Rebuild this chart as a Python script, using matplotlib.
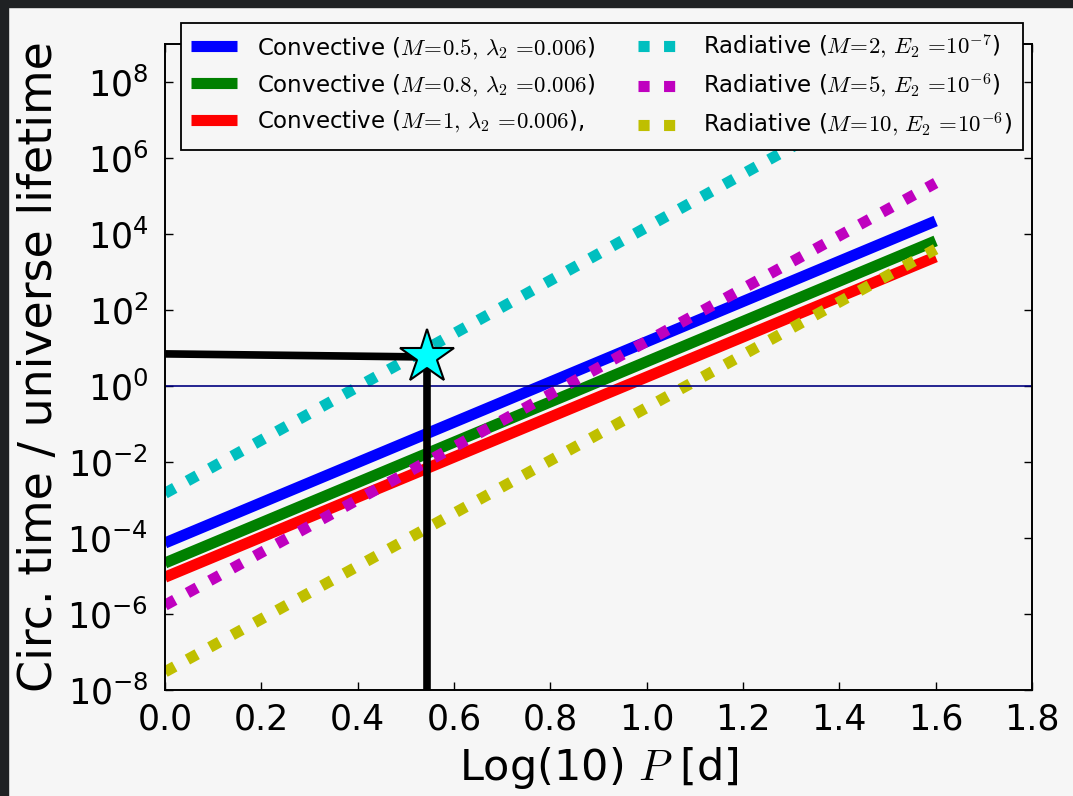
import numpy as np
import matplotlib
matplotlib.use('Agg')
import matplotlib.pyplot as plt
from matplotlib.patches import Rectangle
from matplotlib.ticker import FixedLocator, FuncFormatter

plt.rcParams['mathtext.fontset'] = 'cm'
plt.rcParams['font.family'] = 'DejaVu Sans'

# log10 of the period, end points of each track
logP = [0.0, 1.6]

conv_05 = [7.4e-5, 2.2e4]
conv_08 = [2.2e-5, 6.6e3]
conv_10 = [9.3e-6, 2.5e3]
rad_2 = [1.5e-3, 2.4e8]
rad_5 = [1.7e-6, 2.2e5]
rad_10 = [3.0e-8, 4.0e3]

# the marked system
star_x = 0.544
star_y = 5.8
guide_h_x = [0.0, star_x]
guide_h_y = [7.0, star_y]
guide_v_x = [star_x, star_x]
guide_v_y = [star_y, 1e-8]

labels = [r'Convective ($M\!=\!0.5,\,\lambda_2\,=\!0.006$)',
          r'Convective ($M\!=\!0.8,\,\lambda_2\,=\!0.006$)',
          r'Convective ($M\!=\!1,\,\lambda_2\,=\!0.006$),',
          r'Radiative ($M\!=\!2,\,E_2\,=\!10^{-7}$)',
          r'Radiative ($M\!=\!5,\,E_2\,=\!10^{-6}$)',
          r'Radiative ($M\!=\!10,\,E_2\,=\!10^{-6}$)']

bg = '#f6f6f6'
fig = plt.figure(figsize=(10.73, 7.96), dpi=100, facecolor=bg)
ax = fig.add_axes([165/1073, 1-690/796, 867/1073, 646/796], facecolor=bg)

lw = 8
dots = (0, (1, 1.3))
ax.plot(logP, conv_05, color='#0000ff', lw=lw, label=labels[0], solid_capstyle='butt')
ax.plot(logP, conv_08, color='#008000', lw=lw, label=labels[1], solid_capstyle='butt')
ax.plot(logP, conv_10, color='#ff0000', lw=lw, label=labels[2], solid_capstyle='butt')
ax.plot(logP, rad_2, color='#00bfbf', lw=lw, ls=dots, label=labels[3], dash_capstyle='butt')
ax.plot(logP, rad_5, color='#bf00bf', lw=lw, ls=dots, label=labels[4], dash_capstyle='butt')
ax.plot(logP, rad_10, color='#bfbf00', lw=lw, ls=dots, label=labels[5], dash_capstyle='butt')

ax.axhline(1.0, color='#000080', lw=1.2)

ax.plot(guide_h_x, guide_h_y, color='k', lw=5.5, zorder=5)
ax.plot(guide_v_x, guide_v_y, color='k', lw=5.5, zorder=5)
ax.plot([star_x], [star_y], marker='*', ms=41, mfc='#00ffff', mec='k', mew=1.5, zorder=6)

ax.set_yscale('log')
ax.set_xlim(0, 1.8)
ax.set_ylim(1e-8, 1e9)
ax.yaxis.set_major_locator(FixedLocator([10.0**k for k in range(-8, 9, 2)]))
ax.yaxis.set_minor_locator(FixedLocator([]))
ax.yaxis.set_major_formatter(FuncFormatter(lambda v, p: r'$\mathregular{10^{%d}}$' % round(np.log10(v))))
ax.set_xticks(np.arange(0, 1.81, 0.2))
ax.xaxis.set_major_formatter(FuncFormatter(lambda v, p: '%.1f' % v))

ax.tick_params(direction='in', top=True, right=True, length=6, width=1, labelsize=25)
ax.tick_params(axis='x', pad=9)
ax.tick_params(axis='y', pad=12)
for s in ax.spines.values():
    s.set_linewidth(1.4)

ax.set_xlabel(r'Log(10) $P$ [d]', fontsize=31, labelpad=6)
ax.set_ylabel('Circ. time / universe lifetime', fontsize=33, labelpad=4)

leg = ax.legend(ncol=2, loc='upper left', bbox_to_anchor=(181/1073, 1-23/796),
                bbox_transform=fig.transFigure, borderaxespad=0, fontsize=16.5,
                handlelength=2.0, handletextpad=0.85, columnspacing=1.9,
                labelspacing=0.48, borderpad=0.45,
                fancybox=False, framealpha=1, facecolor=bg, edgecolor='k')
leg.get_frame().set_linewidth(1.3)
leg.set_zorder(10)

# dark border strips along the top and left edges
fig.patches.append(Rectangle((0, 1-7/796), 1, 7/796, transform=fig.transFigure,
                             color='#1f2123', zorder=20))
fig.patches.append(Rectangle((0, 0), 8/1073, 1, transform=fig.transFigure,
                             color='#1f2123', zorder=20))

fig.savefig('out.png', dpi=100, facecolor=bg)
